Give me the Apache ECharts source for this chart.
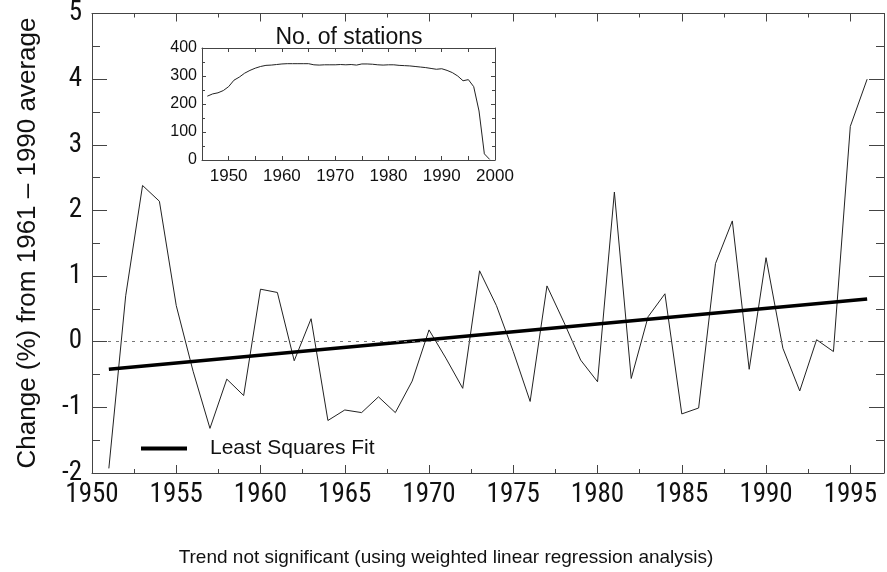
<!DOCTYPE html>
<html>
<head>
<meta charset="utf-8">
<script src="https://cdn.jsdelivr.net/npm/echarts@6/dist/echarts.min.js"></script>
<style>
  html, body { margin: 0; padding: 0; background: #ffffff; }
  #chart { width: 887px; height: 572px; }
</style>
</head>
<body>
<div id="chart"></div>
<script>
// Annual change (%) relative to the 1961-1990 mean
const years = [1951, 1952, 1953, 1954, 1955, 1956, 1957, 1958, 1959, 1960,
  1961, 1962, 1963, 1964, 1965, 1966, 1967, 1968, 1969, 1970,
  1971, 1972, 1973, 1974, 1975, 1976, 1977, 1978, 1979, 1980,
  1981, 1982, 1983, 1984, 1985, 1986, 1987, 1988, 1989, 1990,
  1991, 1992, 1993, 1994, 1995, 1996];
const pctChange = [-1.93, 0.70, 2.38, 2.14, 0.55, -0.45, -1.32, -0.57, -0.82, 0.80,
  0.75, -0.29, 0.35, -1.20, -1.04, -1.08, -0.84, -1.08, -0.60, 0.18,
  -0.25, -0.71, 1.08, 0.55, -0.15, -0.91, 0.85, 0.30, -0.28, -0.61,
  2.28, -0.56, 0.38, 0.73, -1.10, -1.01, 1.19, 1.84, -0.42, 1.28,
  -0.10, -0.75, 0.03, -0.15, 3.28, 4.00];

// End points of the least squares trend line
const fitYears = [1951, 1996];
const fitValues = [-0.42, 0.65];

// Number of reporting stations per year
const stationYears = [1946, 1947, 1948, 1949, 1950, 1951, 1952, 1953, 1954, 1955,
  1956, 1957, 1958, 1959, 1960, 1961, 1962, 1963, 1964, 1965,
  1966, 1967, 1968, 1969, 1970, 1971, 1972, 1973, 1974, 1975,
  1976, 1977, 1978, 1979, 1980, 1981, 1982, 1983, 1984, 1985,
  1986, 1987, 1988, 1989, 1990, 1991, 1992, 1993, 1994, 1995,
  1996, 1997, 1998, 1999];
const stationCounts = [228, 236, 240, 248, 262, 285, 296, 310, 320, 328,
  334, 338, 339, 341, 343, 344, 344, 344, 344, 344,
  340, 339, 340, 340, 340, 341, 340, 341, 339, 343,
  343, 342, 340, 339, 340, 340, 338, 337, 336, 334,
  332, 330, 327, 324, 326, 320, 312, 300, 283, 287,
  262, 175, 22, 2];

const FONT = '"Liberation Sans", Arial, Helvetica, sans-serif';
const NARROW = '"Roboto Condensed", "Liberation Sans", sans-serif';
const FRAME = '#444444';
const TEXT = '#111111';

const plain = v => String(v);

// One side of a plot frame: axis line, inward ticks, optional labels
function frameAxis(gridIndex, position, range, interval, tickLen, minorLen, label) {
  return {
    type: 'value',
    gridIndex: gridIndex,
    position: position,
    min: range.min,
    max: range.max,
    interval: interval,
    z: 10,
    splitLine: { show: false },
    axisLine: { show: true, onZero: false, lineStyle: { color: FRAME } },
    axisTick: { show: true, inside: true, length: tickLen, lineStyle: { color: FRAME } },
    minorTick: minorLen
      ? { show: true, splitNumber: 2, length: minorLen, lineStyle: { color: FRAME } }
      : { show: false },
    axisLabel: label ? label : { show: false }
  };
}

// Extra tick row (no line, no labels) for the half-interval marks
function tickRow(gridIndex, position, range, interval, tickLen) {
  const a = frameAxis(gridIndex, position, range, interval, tickLen, 0, null);
  a.axisLine = { show: false, onZero: false };
  return a;
}

const mainXRange = { min: 1950, max: 1997 };
const mainYRange = { min: -2, max: 5 };
const insetXRange = { min: 1945, max: 2000 };
const insetYRange = { min: 0, max: 400 };

const chart = echarts.init(document.getElementById('chart'));

chart.setOption({
  animation: false,
  backgroundColor: '#ffffff',
  grid: [
    { left: 92, top: 12, width: 793, height: 461 },
    { left: 202, top: 48, width: 293, height: 112 }
  ],
  title: [
    {
      text: 'Trend not significant (using weighted linear regression analysis)',
      left: 441, top: 543, textAlign: 'center',
      textStyle: { fontFamily: FONT, fontSize: 19, fontWeight: 'normal', color: TEXT }
    },
    {
      text: 'No. of stations',
      left: 344, top: 21, textAlign: 'center',
      textStyle: { fontFamily: FONT, fontSize: 23, fontWeight: 'normal', color: TEXT }
    }
  ],
  graphic: [
    {
      type: 'text',
      x: 28, y: 243,
      rotation: Math.PI / 2,
      silent: true,
      style: {
        text: 'Change (%) from 1961 \u2013 1990 average',
        fontFamily: FONT, fontSize: 26, fill: TEXT,
        align: 'center', verticalAlign: 'middle'
      }
    }
  ],
  legend: {
    data: ['Least Squares Fit'],
    left: 136, top: 433,
    itemWidth: 46, itemHeight: 20,
    icon: 'path://M0,0 L46,0 L46,4 L0,4 Z',
    itemStyle: { color: '#000000' },
    textStyle: { fontFamily: FONT, fontSize: 21, color: TEXT, padding: [0, 0, 0, 18] }
  },
  xAxis: [
    frameAxis(0, 'bottom', mainXRange, 5, 8, 0,
      { show: true, margin: 9, fontFamily: NARROW, fontSize: 27, color: TEXT,
        formatter: v => (v % 5 === 0 ? String(v) : '') }),
    frameAxis(0, 'top', mainXRange, 5, 8, 0, null),
    tickRow(0, 'bottom', mainXRange, 2.5, 4),
    tickRow(0, 'top', mainXRange, 2.5, 4),
    frameAxis(1, 'bottom', insetXRange, 5, 4, 0,
      { show: true, margin: 8, fontFamily: FONT, fontSize: 17, color: TEXT,
        formatter: v => (v % 10 === 0 ? String(v) : '') }),
    frameAxis(1, 'top', insetXRange, 5, 4, 0, null)
  ],
  yAxis: [
    frameAxis(0, 'left', mainYRange, 1, 15, 8,
      { show: true, margin: 10, fontFamily: NARROW, fontSize: 27, color: TEXT, formatter: plain }),
    frameAxis(0, 'right', mainYRange, 1, 15, 8, null),
    frameAxis(1, 'left', insetYRange, 100, 4, 3,
      { show: true, margin: 5, fontFamily: FONT, fontSize: 16, color: TEXT, formatter: plain }),
    frameAxis(1, 'right', insetYRange, 100, 4, 3, null)
  ],
  series: [
    {
      name: 'Change',
      type: 'line',
      xAxisIndex: 0, yAxisIndex: 0,
      data: years.map((y, i) => [y, pctChange[i]]),
      symbol: 'none',
      lineStyle: { color: '#222222', width: 1 },
      markLine: {
        silent: true,
        symbol: ['none', 'none'],
        label: { show: false },
        lineStyle: { color: '#777777', width: 1, type: [3, 5] },
        data: [{ yAxis: 0 }]
      },
      z: 3
    },
    {
      name: 'Least Squares Fit',
      type: 'line',
      xAxisIndex: 0, yAxisIndex: 0,
      data: fitYears.map((y, i) => [y, fitValues[i]]),
      symbol: 'none',
      lineStyle: { color: '#000000', width: 3.5 },
      z: 4
    },
    {
      name: 'No. of stations',
      type: 'line',
      xAxisIndex: 4, yAxisIndex: 2,
      data: stationYears.map((y, i) => [y, stationCounts[i]]),
      symbol: 'none',
      lineStyle: { color: '#222222', width: 1 },
      z: 5
    }
  ]
});
</script>
</body>
</html>
